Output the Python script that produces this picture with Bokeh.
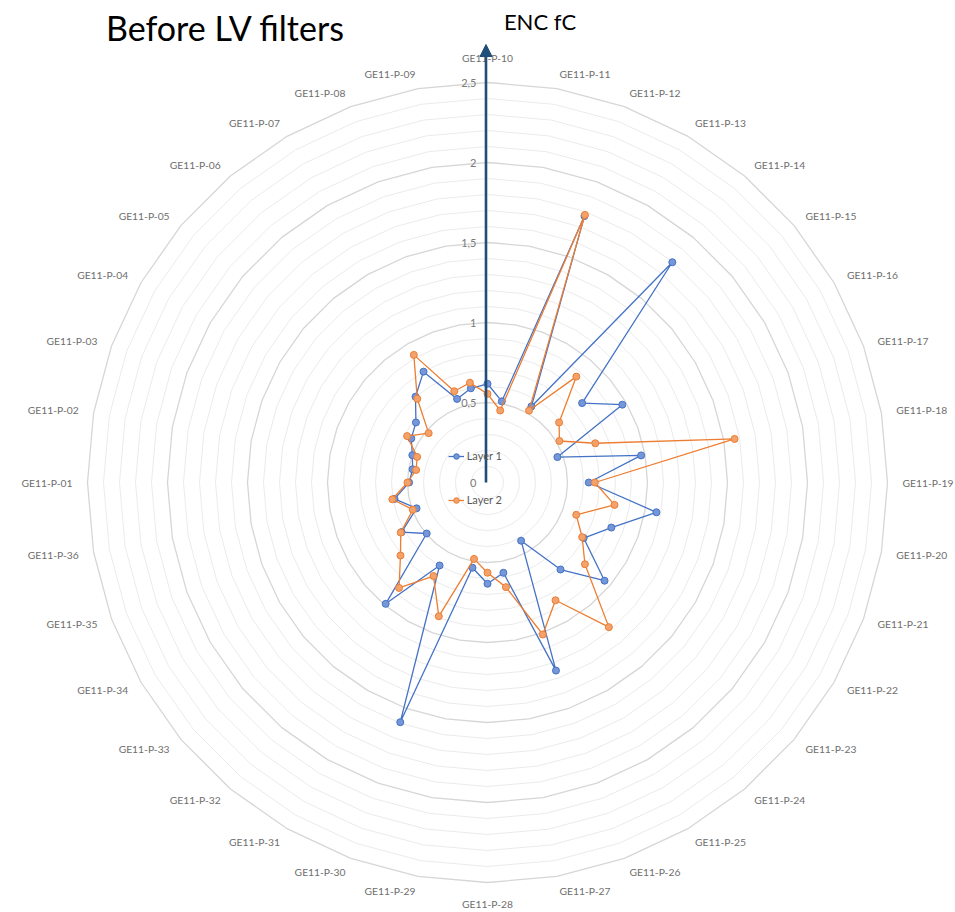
import numpy as np
from bokeh.plotting import figure
from bokeh.models import Label, Arrow, NormalHead, Legend, LegendItem, ColumnDataSource
from bokeh.core.properties import value
from bokeh.embed import file_html
from bokeh.resources import INLINE

categories = ["GE11-P-01", "GE11-P-02", "GE11-P-03", "GE11-P-04", "GE11-P-05", "GE11-P-06",
              "GE11-P-07", "GE11-P-08", "GE11-P-09", "GE11-P-10", "GE11-P-11", "GE11-P-12",
              "GE11-P-13", "GE11-P-14", "GE11-P-15", "GE11-P-16", "GE11-P-17", "GE11-P-18",
              "GE11-P-19", "GE11-P-20", "GE11-P-21", "GE11-P-22", "GE11-P-23", "GE11-P-24",
              "GE11-P-25", "GE11-P-26", "GE11-P-27", "GE11-P-28", "GE11-P-29", "GE11-P-30",
              "GE11-P-31", "GE11-P-32", "GE11-P-33", "GE11-P-34", "GE11-P-35", "GE11-P-36"]

layer1 = [0.49, 0.475, 0.50, 0.55, 0.584, 0.70, 0.80, 0.556, 0.598, 0.617, 0.515, 1.772,
          0.549, 1.797, 0.772, 0.973, 0.465, 0.975, 0.633, 1.072, 0.824, 0.694, 0.955, 0.71,
          0.42, 1.251, 0.573, 0.633, 0.541, 1.594, 0.599, 0.99, 0.496, 0.62, 0.472, 0.59]

layer2 = [0.50, 0.453, 0.468, 0.58, 0.48, 0.683, 0.921, 0.607, 0.633, 0.554, 0.457, 1.78,
          0.519, 0.864, 0.584, 0.519, 0.717, 1.568, 0.671, 0.806, 0.59, 0.683, 0.795, 1.18,
          0.85, 1.011, 0.664, 0.564, 0.485, 0.89, 0.675, 0.86, 0.71, 0.626, 0.497, 0.604]

tick_values = [0, 0.5, 1, 1.5, 2, 2.5]
tick_labels = ["0", "0,5", "1", "1,5", "2", "2,5"]

title_text = "Before LV filters"
axis_title = "ENC fC"
series_names = ["Layer 1", "Layer 2"]

# ---- geometry ----
W, H = 955, 912
S = 160.0            # pixels per value unit
CX, CY = 487, 482    # centre in canvas pixels (from top-left)
n = len(categories)
start_index = categories.index("GE11-P-10")
theta = np.deg2rad((np.arange(n) - start_index) * 360.0 / n)
sin_t, cos_t = np.sin(theta), np.cos(theta)

p = figure(width=W, height=H, output_backend="svg", toolbar_location=None,
           x_range=(-CX / S, (W - CX) / S), y_range=(-(H - CY) / S, CY / S),
           x_axis_type=None, y_axis_type=None, min_border=0,
           min_border_left=0, min_border_right=0, min_border_top=0, min_border_bottom=0,
           outline_line_color=None, background_fill_color="white", border_fill_color="white")
p.grid.visible = False

# ---- polygon gridlines ----
levels = np.round(np.arange(0.1, 2.5001, 0.1), 1)
minor_xs, minor_ys, major_xs, major_ys = [], [], [], []
for lv in levels:
    xs = list(lv * sin_t) + [lv * sin_t[0]]
    ys = list(lv * cos_t) + [lv * cos_t[0]]
    if abs(lv * 2 - round(lv * 2)) < 1e-6:
        major_xs.append(xs); major_ys.append(ys)
    else:
        minor_xs.append(xs); minor_ys.append(ys)
p.multi_line(minor_xs, minor_ys, line_color="#EBEBEB", line_width=1)
p.multi_line(major_xs, major_ys, line_color="#D6D6D6", line_width=1.3)

# ---- category labels ----
r0 = 415 / S
groups = {"top": [], "bottom": [], "left": [], "right": []}
for i, cat in enumerate(categories):
    deg = ((i - start_index) * 360.0 / n) % 360
    x, y = r0 * sin_t[i], r0 * cos_t[i]
    if abs(deg) < 1e-6:
        groups["top"].append((x, y + 4 / S, cat))
    elif abs(deg - 180) < 1e-6:
        groups["bottom"].append((x, y, cat))
    elif deg < 180:
        groups["left"].append((x, y, cat))
    else:
        groups["right"].append((x, y, cat))
style = {"top": ("center", "bottom"), "bottom": ("center", "top"),
         "left": ("left", "middle"), "right": ("right", "middle")}
for key, items in groups.items():
    if not items:
        continue
    al, bl = style[key]
    p.text(x=[t[0] for t in items], y=[t[1] for t in items], text=[t[2] for t in items],
           text_align=al, text_baseline=bl, text_font=value("Lato"),
           text_font_size="10.3px", text_color="#6E6E6E")

# ---- value axis labels ----
p.text(x=[-11 / S] * len(tick_values), y=tick_values, text=tick_labels,
       text_align="right", text_baseline="middle", text_font=value("Lato"),
       text_font_size="11px", text_color="#7A7A7A")

# ---- series ----
def closed(vals):
    v = np.asarray(vals)
    xs = list(v * sin_t) + [v[0] * sin_t[0]]
    ys = list(v * cos_t) + [v[0] * cos_t[0]]
    return xs, ys

renderers = []
for vals, lc, fc in [(layer1, "#4472C4", "#7596D8"), (layer2, "#ED7D31", "#F4A26C")]:
    xs, ys = closed(vals)
    lr = p.line(xs, ys, line_color=lc, line_width=1.3)
    src = ColumnDataSource(dict(x=np.asarray(vals) * sin_t, y=np.asarray(vals) * cos_t))
    sr = p.scatter("x", "y", source=src, size=7, fill_color=fc, line_color=lc, line_width=1)
    renderers.append((lr, sr))

# ---- arrow (value axis) ----
p.add_layout(Arrow(end=NormalHead(size=12, fill_color="#1F4E79", line_color="#1F4E79"),
                   x_start=-1.5 / S, y_start=0, x_end=-1.5 / S, y_end=438 / S,
                   line_color="#1F4E79", line_width=2.6))

# ---- legend ----
legend = Legend(items=[LegendItem(label=series_names[0], renderers=list(renderers[0])),
                       LegendItem(label=series_names[1], renderers=list(renderers[1]))],
                location=(447.7, H - 506.7), orientation="vertical", padding=0, margin=0,
                spacing=30, glyph_width=16, glyph_height=14, label_height=14,
                label_standoff=3, background_fill_alpha=0, border_line_alpha=0,
                label_text_font="Lato", label_text_font_size="11px",
                label_text_color="#595959")
p.add_layout(legend)

# ---- titles ----
p.add_layout(Label(x=105.4, y=H - 27, x_units="screen", y_units="screen", text=title_text,
                   text_font="Lato", text_font_size="34px", text_color="black",
                   text_baseline="middle", text_align="left"))
p.add_layout(Label(x=539.5, y=H - 21, x_units="screen", y_units="screen", text=axis_title,
                   text_font="Lato", text_font_size="22px", text_color="black",
                   text_baseline="middle", text_align="center"))

open("out.html", "w").write(file_html(p, INLINE))
